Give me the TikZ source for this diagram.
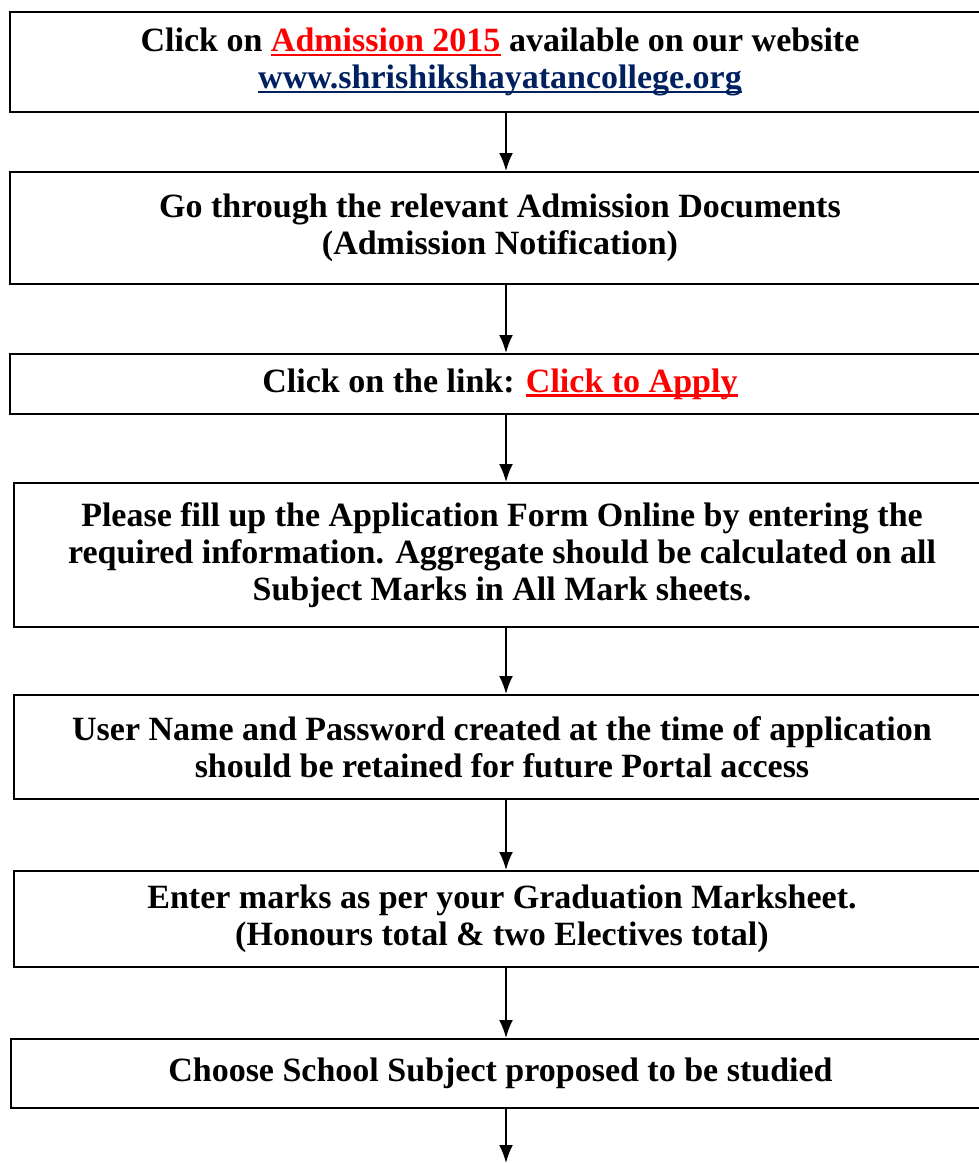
\documentclass[tikz,border=0pt]{standalone}
\usepackage{fontspec}
\setmainfont{Liberation Serif}
\usetikzlibrary{arrows.meta}
\definecolor{linkred}{RGB}{255,0,0}
\definecolor{linkblue}{RGB}{0,32,96}
\newcommand{\thickunder}[1]{\setbox0\hbox{#1}\rlap{\rule[-4.5pt]{\wd0}{2.5pt}}\box0}
\newcommand{\redlink}[1]{\textcolor{linkred}{\thickunder{#1}}}
\tikzset{
  stepbox/.style={draw, line width=2pt, align=center, inner sep=0pt,
    font=\bfseries\fontsize{34}{37}\selectfont},
  flow/.style={line width=2pt, -{Latex[length=18pt,width=14pt]}}
}
\begin{document}
\begin{tikzpicture}[x=1pt, y={(0pt,-1pt)}]
    \useasboundingbox (0,0) rectangle (979,1163);
    \clip (0,0) rectangle (979,1163);
    \coordinate (axis) at (506,0);
    \coordinate (end) at (506,1163);
  	\node (site) at (500,62) [stepbox, minimum width=980pt, minimum height=100pt]
      {Click on \redlink{Admission 2015} available on our website\\
       \textcolor{linkblue}{\thickunder{www.shrishikshayatancollege.org}}};
  	\node (docs) at (500,228) [stepbox, minimum width=980pt, minimum height=112pt]
      {Go through the relevant Admission Documents\\ (Admission Notification)};
  	\node (link) at (500,384) [stepbox, minimum width=980pt, minimum height=60pt]
      {Click on the link: \redlink{Click to Apply}};
  	\node (form) at (502,555) [stepbox, minimum width=976pt, minimum height=144pt]
      {Please fill up the Application Form Online by entering the\\
       required information. Aggregate should be calculated on all\\
       Subject Marks in All Mark sheets.};
  	\node (user) at (502,747) [stepbox, minimum width=976pt, minimum height=104pt]
      {User Name and Password created at the time of application\\
       should be retained for future Portal access};
  	\node (marks) at (502,919) [stepbox, minimum width=976pt, minimum height=96pt]
      {Enter marks as per your Graduation Marksheet.\\
       (Honours total \& two Electives total)};
  	\node (subj) at (500.5,1073.5) [stepbox, minimum width=979pt, minimum height=69pt]
      {Choose School Subject proposed to be studied};
	\draw[flow] (site.south -| axis) -- (docs.north -| axis);
	\draw[flow] (docs.south -| axis) -- (link.north -| axis);
	\draw[flow] (link.south -| axis) -- (form.north -| axis);
	\draw[flow] (form.south -| axis) -- (user.north -| axis);
	\draw[flow] (user.south -| axis) -- (marks.north -| axis);
	\draw[flow] (marks.south -| axis) -- (subj.north -| axis);
	\draw[flow] (subj.south -| axis) -- (end);
  \end{tikzpicture}
\end{document}
